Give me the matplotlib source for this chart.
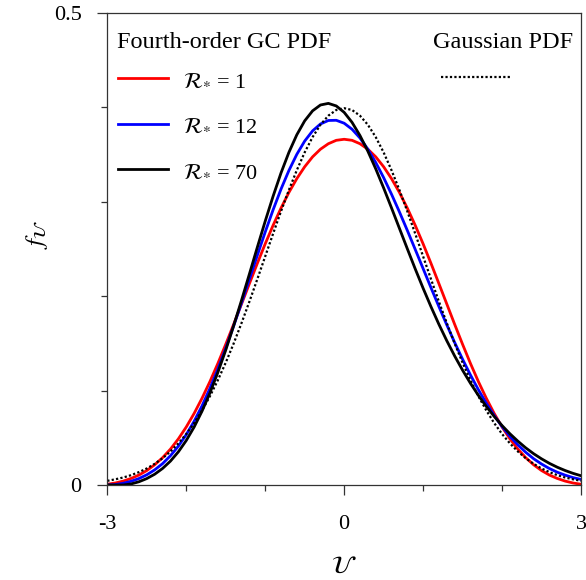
import matplotlib.pyplot as plt
from matplotlib.lines import Line2D

# values (x step 0.1, f in units of 1e-4)
u = [round(-3 + 0.1 * i, 1) for i in range(61)]
f_r1 = [8, 21, 41, 69, 105, 153, 214, 289, 380, 488, 614, 758, 919, 1095, 1286, 1489,
        1700, 1916, 2132, 2346, 2553, 2749, 2931, 3097, 3243, 3369, 3474, 3555, 3613, 3649,
        3660, 3649, 3613, 3555, 3474, 3369, 3243, 3097, 2931, 2749, 2553, 2346, 2132, 1916,
        1700, 1489, 1286, 1095, 919, 758, 614, 488, 380, 289, 214, 153, 105, 69, 41, 21, 8]
f_r12 = [0, 4, 18, 39, 68, 108, 160, 226, 310, 411, 533, 675, 838, 1023, 1226, 1447,
         1683, 1928, 2180, 2431, 2678, 2913, 3132, 3329, 3500, 3641, 3749, 3822, 3859, 3861,
         3830, 3766, 3674, 3555, 3414, 3254, 3078, 2891, 2695, 2494, 2291, 2088, 1889, 1695,
         1508, 1331, 1164, 1009, 866, 736, 619, 515, 425, 346, 278, 222, 174, 135, 104, 78, 59]
f_r70 = [0, 0, 0, 11, 34, 68, 114, 175, 253, 351, 471, 614, 782, 975, 1191, 1428,
         1685, 1955, 2234, 2516, 2793, 3057, 3303, 3521, 3707, 3855, 3961, 4023, 4040, 4013,
         3945, 3839, 3700, 3534, 3347, 3145, 2933, 2717, 2501, 2288, 2083, 1887, 1701, 1527,
         1365, 1215, 1076, 949, 832, 726, 629, 542, 464, 393, 331, 277, 229, 188, 153, 123, 98]
f_gauss = [44, 60, 79, 104, 136, 175, 224, 283, 355, 440, 540, 656, 790, 940, 1109, 1295,
           1497, 1714, 1942, 2179, 2420, 2661, 2897, 3123, 3332, 3521, 3683, 3814, 3910, 3970,
           3989, 3970, 3910, 3814, 3683, 3521, 3332, 3123, 2897, 2661, 2420, 2179, 1942, 1714,
           1497, 1295, 1109, 940, 790, 656, 540, 440, 355, 283, 224, 175, 136, 104, 79, 60, 44]
labels = [r'$\mathcal{R}_{*}$ = 1', r'$\mathcal{R}_{*}$ = 12', r'$\mathcal{R}_{*}$ = 70']
colors = ['red', 'blue', 'black']

plt.rcParams['font.family'] = 'Liberation Serif'
plt.rcParams['mathtext.fontset'] = 'stix'
plt.rcParams['axes.unicode_minus'] = False

fig = plt.figure(figsize=(5.86, 5.8), dpi=100)
ax = fig.add_axes([0.1831, 0.1638, 0.8084, 0.8143])

for f, c, lab in zip([f_r1, f_r12, f_r70], colors, labels):
    ax.plot(u, [v / 1e4 for v in f], color=c, lw=2.0, label=lab)
ax.plot(u, [v / 1e4 for v in f_gauss], color='black', lw=1.6, ls=(0, (1, 1)))

ax.set_xlim(-3, 3)
ax.set_ylim(0, 0.5)
ax.set_xticks([-3, 0, 3])
ax.set_xticks([-2, -1, 1, 2], minor=True)
ax.set_yticks([0, 0.5])
ax.set_yticklabels(['0', '0.5'])
ax.set_yticks([0.1, 0.2, 0.3, 0.4], minor=True)
ax.tick_params(which='both', direction='out', width=0.9, color='#333333')
ax.tick_params(which='major', length=7.5, labelsize=16)
ax.tick_params(which='minor', length=4.5)
ax.tick_params(axis='x', which='major', pad=14)
ax.tick_params(axis='y', which='major', pad=11)
for sp in ax.spines.values():
    sp.set_linewidth(0.9)
    sp.set_color('#333333')

ax.set_xlabel(r'$\mathcal{U}$', fontsize=18, labelpad=16)
ax.set_ylabel(r'$f_{\mathcal{U}}$', fontsize=18)
ax.yaxis.set_label_coords(-0.12, 0.53)

# legend headers
ax.text(0.0205, 0.925, 'Fourth-order GC PDF', transform=ax.transAxes,
        fontsize=17.5, ha='left', va='baseline')
ax.text(0.983, 0.925, 'Gaussian PDF', transform=ax.transAxes,
        fontsize=17.5, ha='right', va='baseline')

leg1 = ax.legend(loc='center left', bbox_to_anchor=(0.0226, 0.760), frameon=False,
                 fontsize=16, handlelength=2.25, handletextpad=0.675,
                 labelspacing=1.14, borderaxespad=0.0, borderpad=0.0)
ax.add_artist(leg1)
gauss_handle = Line2D([], [], color='black', lw=1.6, ls=(0, (1, 1)))
ax.legend([gauss_handle], [' '], loc='center left', bbox_to_anchor=(0.7045, 0.8596),
          frameon=False, fontsize=16, handlelength=3.1, handletextpad=0.0,
          borderaxespad=0.0, borderpad=0.0)

fig.savefig('out.png')
